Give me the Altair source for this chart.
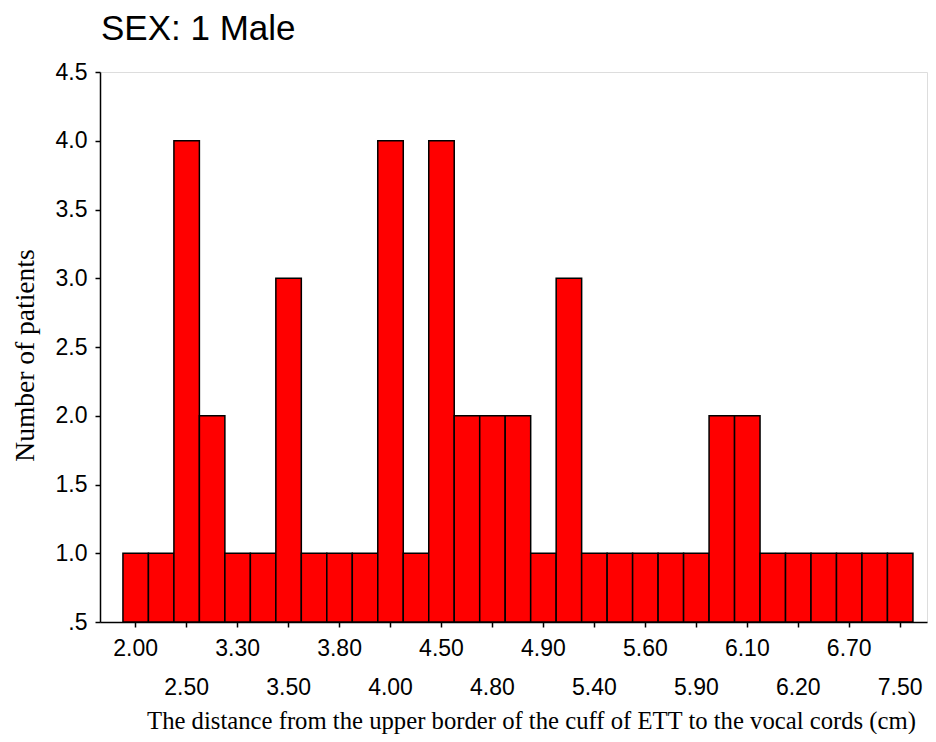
import json
import altair as alt
import pandas as pd

# Distance values (categories, in order) and number of patients per value
categories = ["2.00", "2.30", "2.50", "3.00", "3.30", "3.40", "3.50", "3.70",
              "3.80", "3.90", "4.00", "4.20", "4.50", "4.70", "4.80", "4.85",
              "4.90", "5.00", "5.40", "5.50", "5.60", "5.80", "5.90", "6.00",
              "6.10", "6.15", "6.20", "6.50", "6.70", "7.00", "7.50"]
counts = [1, 1, 4, 2, 1, 1, 3, 1,
          1, 1, 4, 1, 4, 2, 2, 2,
          1, 3, 1, 1, 1, 1, 1, 2,
          2, 1, 1, 1, 1, 1, 1]

# Tick labels shown on the x axis (two staggered rows)
row1_labels = ["2.00", "3.30", "3.80", "4.50", "4.90", "5.60", "6.10", "6.70"]
row2_labels = ["2.50", "3.50", "4.00", "4.80", "5.40", "5.90", "6.20", "7.50"]

y_ticks = [0.5, 1.0, 1.5, 2.0, 2.5, 3.0, 3.5, 4.0, 4.5]

chart_title = ["SEX: 1 Male"]

df = pd.DataFrame({"value": categories, "count": counts})
title_df = pd.DataFrame({"t": chart_title})

row2_js = json.dumps(row2_labels).replace('"', "'")
x_label_expr = f"indexof({row2_js}, datum.value) >= 0 ? ['', datum.value] : datum.value"

x_axis = alt.Axis(
    values=row1_labels + row2_labels,
    labelExpr=x_label_expr,
    labelAngle=0,
    labelFont="Liberation Sans",
    labelFontSize=23,
    labelColor="black",
    labelPadding=10,
    labelLineHeight=39,
    labelBaseline="top",
    labelOverlap=False,
    ticks=True,
    tickSize=5,
    tickColor="black",
    tickWidth=1.5,
    domainColor="black",
    domainWidth=1.5,
    grid=False,
    title="The distance from the upper border of the cuff of ETT to the vocal cords (cm)",
    titleFont="Liberation Serif",
    titleFontSize=24.7,
    titleFontWeight="normal",
    titleColor="black",
    titleAlign="center",
    titleBaseline="alphabetic",
    titleX=431,
    titleY=106,
)

y_axis = alt.Axis(
    values=y_ticks,
    labelExpr="datum.value == 0.5 ? '.5' : format(datum.value, '.1f')",
    labelFont="Liberation Sans",
    labelFontSize=23,
    labelColor="black",
    labelPadding=8,
    tickSize=5,
    tickColor="black",
    tickWidth=1.5,
    domainColor="black",
    domainWidth=1.5,
    grid=False,
    title="Number of patients",
    titleFont="Liberation Serif",
    titleFontSize=27.5,
    titleFontWeight="normal",
    titleColor="black",
    titleAngle=270,
    titleAlign="center",
    titleBaseline="alphabetic",
    titleX=-67,
    titleY=283,
)

bars = (
    alt.Chart(df)
    .mark_bar(color="#ff0000", stroke="black", strokeWidth=1.5)
    .encode(
        x=alt.X("value:N", sort=categories,
                scale=alt.Scale(paddingInner=0, paddingOuter=0.726, align=0.62),
                axis=x_axis),
        y=alt.Y("count:Q",
                scale=alt.Scale(domain=[0.5, 4.5], zero=False, nice=False),
                axis=y_axis),
        y2=alt.datum(0.5),
    )
)

title_text = (
    alt.Chart(title_df)
    .mark_text(font="Liberation Sans", fontSize=35, color="black",
               align="left", baseline="alphabetic")
    .encode(x=alt.value(1), y=alt.value(-32), text="t:N")
)

chart = (
    alt.layer(bars, title_text)
    .properties(
        width=827,
        height=550,
        autosize=alt.AutoSizeParams(type="none"),
        padding={"left": 92, "top": 64, "right": 1, "bottom": 112},
    )
    .configure_view(stroke="black", strokeWidth=1.5)
    .configure(background="white")
)

chart.save("out.html", embed_options={"renderer": "svg", "actions": False})
